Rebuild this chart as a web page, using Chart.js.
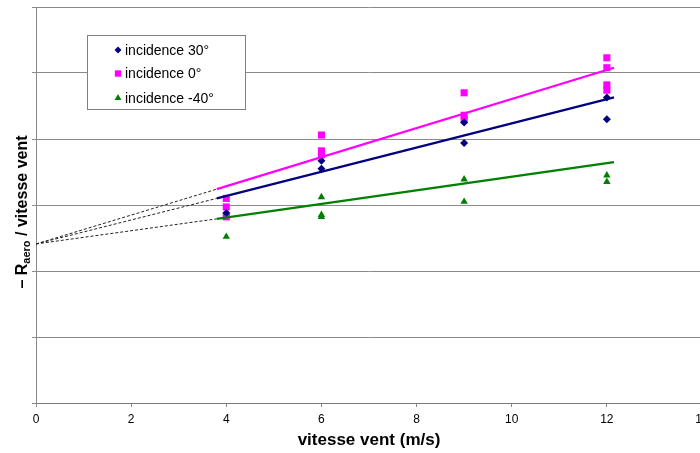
<!DOCTYPE html>
<html>
<head>
<meta charset="utf-8">
<script src="https://cdn.jsdelivr.net/npm/chart.js@4"></script>
<style>
    html, body { margin: 0; padding: 0; background: #fff; overflow: hidden; }
    #wrap { position: relative; width: 720px; height: 453px; }
</style>
</head>
<body>
<div id="wrap"><canvas id="chart"></canvas></div>
<script>
const speeds30 = [4, 6, 6, 9, 9, 12, 12];
const values30 = [2.88, 3.67, 3.55, 4.25, 3.94, 4.63, 4.30];

const speeds0 = [4, 4, 4, 6, 6, 6, 9, 9, 9, 12, 12, 12, 12];
const values0 = [3.10, 2.97, 2.82, 4.06, 3.82, 3.76, 4.70, 4.36, 4.30, 5.23, 5.08, 4.82, 4.74];

const speedsM40 = [4, 4, 4, 6, 6, 6, 9, 9, 12, 12];
const valuesM40 = [2.87, 2.82, 2.52, 3.12, 2.85, 2.82, 3.39, 3.05, 3.45, 3.35];

// Trend lines (start / end) and the common dashed extension to x = 0
const trendSpeeds = [3.8, 12.15];
const trend30 = [3.10, 4.63];
const trend0 = [3.24, 5.08];
const trendM40 = [2.79, 3.65];
const originValue = 2.41;

const xTicks = [0, 2, 4, 6, 8, 10, 12, 14];
const legendLabels = ['incidence 30°', 'incidence 0°', 'incidence -40°'];

const FONT = '"Liberation Sans", Arial, sans-serif';
const NAVY = '#000080';
const PINK = '#ff00ff';
const GREEN = '#008000';
const GRID = '#8a8a8a';

const toPoints = (xs, ys) => xs.map((x, i) => ({ x: x, y: ys[i] }));

function trendSet(values, color) {
    return {
        type: 'line',
        data: toPoints(trendSpeeds, values),
        borderColor: color,
        borderWidth: 2.2,
        pointRadius: 0,
        fill: false
    };
}

function dashSet(values) {
    return {
        type: 'line',
        data: [{ x: 0, y: originValue }, { x: trendSpeeds[0], y: values[0] }],
        borderColor: '#222',
        borderWidth: 1,
        borderDash: [3, 2],
        pointRadius: 0,
        fill: false
    };
}

function markerSet(label, xs, ys, color, style, radius) {
    return {
        label: label,
        data: toPoints(xs, ys),
        backgroundColor: color,
        borderColor: color,
        borderWidth: 0,
        pointStyle: style,
        pointRadius: radius,
        showLine: false
    };
}

// Legend box inside the plot
const legendBox = {
    id: 'legendBox',
    afterDraw(chart) {
        const ctx = chart.ctx;
        ctx.save();
        ctx.fillStyle = '#fff';
        ctx.strokeStyle = '#808080';
        ctx.lineWidth = 1;
        ctx.fillRect(87.5, 35.5, 158, 74);
        ctx.strokeRect(87.5, 35.5, 158, 74);
        const styles = [
            { pointStyle: 'rectRot', radius: 3.5, color: NAVY },
            { pointStyle: 'rect', radius: 4.5, color: PINK },
            { pointStyle: 'triangle', radius: 4, color: GREEN }
        ];
        const rows = [50, 73.5, 98];
        ctx.font = '14px ' + FONT;
        ctx.textBaseline = 'middle';
        legendLabels.forEach((text, i) => {
            const s = styles[i];
            ctx.fillStyle = s.color;
            ctx.strokeStyle = s.color;
            Chart.helpers.drawPoint(ctx, { pointStyle: s.pointStyle, radius: s.radius, rotation: 0, borderWidth: 0 }, 118, rows[i]);
            ctx.fillStyle = '#000';
            ctx.fillText(text, 125, rows[i] + 1);
        });
        ctx.restore();
    }
};

// Rotated y title with subscript
const yTitle = {
    id: 'yTitle',
    afterDraw(chart) {
        const ctx = chart.ctx;
        const big = 'bold 16px ' + FONT;
        const small = 'bold 11px ' + FONT;
        const parts = [['– R', big, 0], ['aero', small, 3], [' / vitesse vent', big, 0]];
        let total = 0;
        parts.forEach(p => { ctx.font = p[1]; total += ctx.measureText(p[0]).width; });
        ctx.save();
        ctx.translate(27, 212);
        ctx.rotate(-Math.PI / 2);
        ctx.fillStyle = '#000';
        ctx.textBaseline = 'alphabetic';
        ctx.textAlign = 'left';
        let x = -total / 2;
        parts.forEach(p => {
            ctx.font = p[1];
            ctx.fillText(p[0], x, p[2]);
            x += ctx.measureText(p[0]).width;
        });
        ctx.restore();
    }
};

new Chart(document.getElementById('chart'), {
    type: 'scatter',
    data: {
        datasets: [
            trendSet(trend0, PINK),
            trendSet(trend30, NAVY),
            trendSet(trendM40, GREEN),
            dashSet(trend0),
            dashSet(trend30),
            dashSet(trendM40),
            markerSet(legendLabels[0], speeds30, values30, NAVY, 'rectRot', 4),
            markerSet(legendLabels[1], speeds0, values0, PINK, 'rect', 5),
            markerSet(legendLabels[2], speedsM40, valuesM40, GREEN, 'triangle', 4.3)
        ]
    },
    options: {
        responsive: true,
        maintainAspectRatio: false,
        animation: false,
        layout: { padding: { top: 7, right: 18, bottom: 0, left: 0 } },
        plugins: {
            legend: { display: false },
            tooltip: { enabled: false }
        },
        scales: {
            x: {
                type: 'linear',
                min: 0,
                max: 14,
                afterBuildTicks: (scale) => { scale.ticks = xTicks.map(v => ({ value: v })); },
                afterFit: (scale) => { scale.height = 50; },
                ticks: {
                    color: '#000',
                    font: { family: FONT, size: 12 },
                    padding: 5,
                    maxRotation: 0
                },
                grid: { drawOnChartArea: false, drawTicks: true, tickLength: 4, color: GRID },
                border: { display: true, color: '#777', width: 1 },
                title: {
                    display: true,
                    text: 'vitesse vent (m/s)',
                    color: '#000',
                    font: { family: FONT, size: 17, weight: 'bold' },
                    padding: { top: 4, bottom: 2 }
                }
            },
            y: {
                type: 'linear',
                min: 0,
                max: 6,
                ticks: { display: false, stepSize: 1 },
                grid: { drawOnChartArea: true, drawTicks: true, tickLength: 4, color: GRID },
                border: { display: true, color: GRID, width: 1 },
                afterFit: (scale) => { scale.width = 36; }
            }
        }
    },
    plugins: [legendBox, yTitle]
});
</script>
</body>
</html>
